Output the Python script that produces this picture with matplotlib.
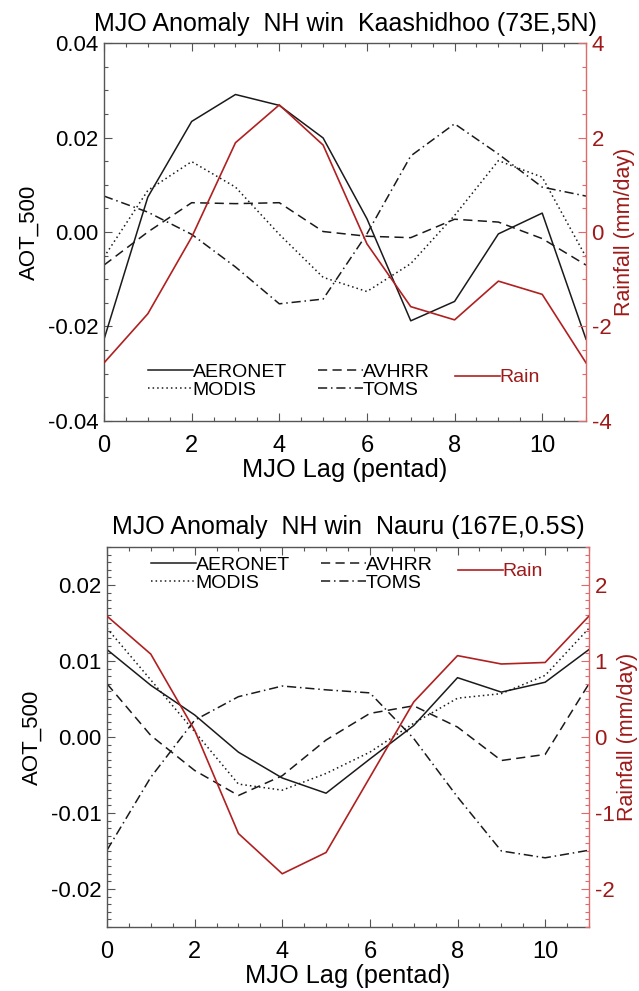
import numpy as np
import matplotlib
matplotlib.use("Agg")
import matplotlib.pyplot as plt
from matplotlib.ticker import MultipleLocator, FormatStrFormatter

plt.rcParams['font.family'] = ['Liberation Sans', 'DejaVu Sans']
plt.rcParams['axes.unicode_minus'] = False

lag = np.arange(12)

# Kaashidhoo (73E,5N)
kaa_aeronet = [-0.0227, 0.0074, 0.0234, 0.0291, 0.0268, 0.0199, 0.0028, -0.0188, -0.0147, -0.0004, 0.0040, -0.0227]
kaa_modis = [-0.0053, 0.0088, 0.0149, 0.0095, -0.0005, -0.0096, -0.0126, -0.0067, 0.0035, 0.0151, 0.0116, -0.0053]
kaa_avhrr = [-0.0070, 0.0000, 0.0062, 0.0060, 0.0062, 0.0001, -0.0009, -0.0012, 0.0027, 0.0021, -0.0014, -0.0070]
kaa_toms = [0.0076, 0.0042, -0.0005, -0.0074, -0.0152, -0.0142, -0.0004, 0.0161, 0.0229, 0.0165, 0.0095, 0.0076]
kaa_rain = [-2.77, -1.73, -0.11, 1.89, 2.69, 1.84, -0.25, -1.58, -1.86, -1.04, -1.32, -2.77]

# Nauru (167E,0.5S)
nau_aeronet = [0.0115, 0.0068, 0.0029, -0.0020, -0.0054, -0.0074, -0.0029, 0.0015, 0.0078, 0.0059, 0.0072, 0.0115]
nau_modis = [0.0143, 0.0075, 0.0007, -0.0062, -0.0070, -0.0048, -0.0020, 0.0018, 0.0051, 0.0057, 0.0081, 0.0143]
nau_avhrr = [0.0070, 0.0002, -0.0044, -0.0077, -0.0051, -0.0004, 0.0031, 0.0041, 0.0013, -0.0031, -0.0023, 0.0070]
nau_toms = [-0.0149, -0.0053, 0.0022, 0.0053, 0.0067, 0.0062, 0.0058, -0.0002, -0.0079, -0.0150, -0.0159, -0.0149]
nau_rain = [1.59, 1.09, 0.09, -1.27, -1.80, -1.52, -0.53, 0.46, 1.07, 0.96, 0.98, 1.59]

RAIN = '#b02020'
RAIN_TXT = '#9e1a1a'
RAIN_AX = '#e06a6a'
AX_COL = '#555555'
LINE = '#1a1a1a'


def panel(rect, title, aer, mod, avh, toms, rain, ylim, ymaj, ymin, rlim, rmaj, rmin, leg_y, rain_y):
    ax = fig.add_axes(rect)
    ax2 = ax.twinx()

    l1, = ax.plot(lag, aer, color=LINE, lw=1.1, ls='-', label='AERONET')
    l2, = ax.plot(lag, mod, color=LINE, lw=1.1, ls=(0, (1, 2)), label='MODIS')
    l3, = ax.plot(lag, avh, color=LINE, lw=1.1, ls=(0, (6, 3.5)), label='AVHRR')
    l4, = ax.plot(lag, toms, color=LINE, lw=1.1, ls=(0, (6, 2.5, 1, 2.5)), label='TOMS')
    r1, = ax2.plot(lag, rain, color=RAIN, lw=1.2, label='Rain')

    ax.set_xlim(0, 11)
    ax.set_ylim(*ylim)
    ax2.set_ylim(*rlim)

    ax.xaxis.set_major_locator(MultipleLocator(2))
    ax.xaxis.set_minor_locator(MultipleLocator(0.5))
    ax.yaxis.set_major_locator(MultipleLocator(ymaj))
    ax.yaxis.set_minor_locator(MultipleLocator(ymin))
    ax.yaxis.set_major_formatter(FormatStrFormatter('%.2f'))
    ax2.yaxis.set_major_locator(MultipleLocator(rmaj))
    ax2.yaxis.set_minor_locator(MultipleLocator(rmin))
    ax2.yaxis.set_major_formatter(FormatStrFormatter('%d'))

    ax.tick_params(axis='x', which='both', direction='in', top=True, bottom=True,
                   color=AX_COL, labelsize=17, pad=10)
    ax.tick_params(axis='y', which='both', direction='in', left=True, right=False,
                   color=AX_COL, labelsize=16, pad=4)
    ax.tick_params(which='major', length=5.5, width=0.8)
    ax.tick_params(which='minor', length=3, width=0.8)
    ax2.tick_params(axis='y', which='both', direction='in', colors=RAIN_AX,
                    labelcolor=RAIN_TXT, labelsize=16, pad=4)
    ax2.tick_params(which='major', length=5.5, width=0.8)
    ax2.tick_params(which='minor', length=3, width=0.8)

    for s in ['left', 'top', 'bottom']:
        ax.spines[s].set_color(AX_COL)
        ax.spines[s].set_linewidth(1.0)
        ax2.spines[s].set_visible(False)
    ax.spines['right'].set_visible(False)
    ax2.spines['right'].set_color(RAIN_AX)
    ax2.spines['right'].set_linewidth(1.0)

    ax.set_title(title, fontsize=18, pad=9)
    ax.set_xlabel('MJO Lag (pentad)', fontsize=18.3, labelpad=1)
    ax.set_ylabel('AOT_500', fontsize=16, labelpad=6)
    ax2.set_ylabel('Rainfall (mm/day)', fontsize=15.5, color=RAIN_TXT, labelpad=2)

    ax.legend(handles=[l1, l2, l3, l4], ncol=2, frameon=False, fontsize=14,
              handlelength=2.3, handletextpad=0.0, columnspacing=1.6,
              labelspacing=0.02, borderpad=0, borderaxespad=0,
              loc='center left', bbox_to_anchor=(0.091, leg_y))
    ax2.legend(handles=[r1], frameon=False, fontsize=14, labelcolor=RAIN_TXT,
               handlelength=2.3, handletextpad=0.0, borderpad=0, borderaxespad=0,
               loc='center left', bbox_to_anchor=(0.728, rain_y))
    return ax, ax2


fig = plt.figure(figsize=(6.39, 9.91), dpi=100)

panel([0.1628, 0.5752, 0.7543, 0.3814], 'MJO Anomaly  NH win  Kaashidhoo (73E,5N)',
      kaa_aeronet, kaa_modis, kaa_avhrr, kaa_toms, kaa_rain,
      (-0.04, 0.04), 0.02, 0.005, (-4, 4), 2, 0.5, 0.106, 0.115)

panel([0.1674, 0.0646, 0.7543, 0.3835], 'MJO Anomaly  NH win  Nauru (167E,0.5S)',
      nau_aeronet, nau_modis, nau_avhrr, nau_toms, nau_rain,
      (-0.025, 0.025), 0.01, 0.001, (-2.5, 2.5), 1, 0.1, 0.929, 0.935)

fig.savefig('out.png', dpi=100)
